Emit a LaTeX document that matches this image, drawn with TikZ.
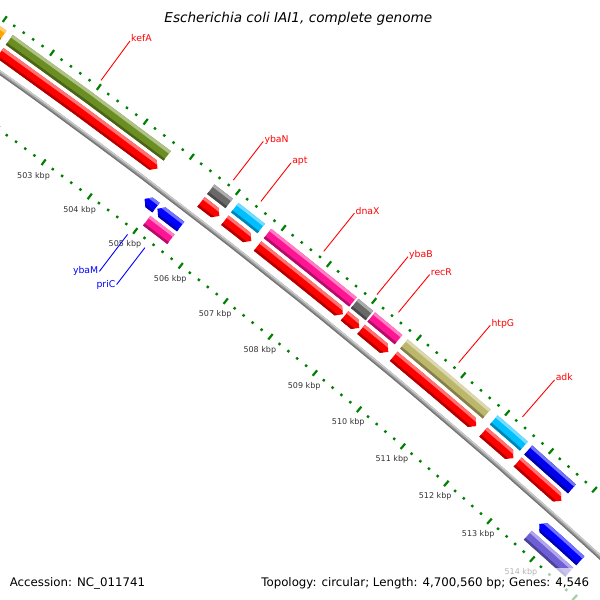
\documentclass[tikz,border=0pt]{standalone}
\usepackage{fontspec}
\setmainfont{DejaVu Sans}

\definecolor{cdsred}{RGB}{255,0,0}
\definecolor{cdsblue}{RGB}{0,0,255}
\definecolor{cogorange}{RGB}{255,165,0}
\definecolor{cogolive}{RGB}{107,142,35}
\definecolor{coggray}{RGB}{105,105,105}
\definecolor{cogcyan}{RGB}{0,191,255}
\definecolor{cogpink}{RGB}{255,20,147}
\definecolor{cogkhaki}{RGB}{189,183,107}
\definecolor{cogblue}{RGB}{0,0,238}
\definecolor{cogslate}{RGB}{110,95,215}
\definecolor{tickgreen}{RGB}{0,128,0}
\definecolor{labelgray}{RGB}{51,51,51}
\definecolor{backbone}{RGB}{155,155,155}
\definecolor{backbonelight}{RGB}{205,205,205}
\definecolor{backbonedark}{RGB}{115,115,115}

% angle of a position in kbp, seen from the centre of the genome circle
\newcommand{\kbpangle}[1]{-53.67+0.50125*((#1)-503)}
% shapes: start, end (kbp), inner and outer radius
\newcommand{\barshape}[4]{({\kbpangle{#1}}:{#3}) -- ({\kbpangle{#1}}:{#4}) -- ({\kbpangle{(#1+#2)/2}}:{#4}) -- ({\kbpangle{#2}}:{#4}) -- ({\kbpangle{#2}}:{#3}) -- ({\kbpangle{(#1+#2)/2}}:{#3}) -- cycle}
\newcommand{\fwdshape}[4]{({\kbpangle{#1}}:{#3}) -- ({\kbpangle{#1}}:{#4}) -- ({\kbpangle{(#1+#2)/2}}:{#4}) -- ({\kbpangle{#2-0.1}}:{#4}) -- ({\kbpangle{#2}}:{(#3+#4)/2}) -- ({\kbpangle{#2-0.1}}:{#3}) -- ({\kbpangle{(#1+#2)/2}}:{#3}) -- cycle}
\newcommand{\revshape}[4]{({\kbpangle{#1}}:{(#3+#4)/2}) -- ({\kbpangle{#1+0.1}}:{#4}) -- ({\kbpangle{(#1+#2)/2}}:{#4}) -- ({\kbpangle{#2}}:{#4}) -- ({\kbpangle{#2}}:{#3}) -- ({\kbpangle{(#1+#2)/2}}:{#3}) -- ({\kbpangle{#1+0.1}}:{#3}) -- cycle}
% one feature with light outer edge and dark inner edge
\newcommand{\genefeat}[6]{%
  \fill[#2] #1{#3}{#4}{#5}{#6};
  \begin{scope}
    \clip #1{#3}{#4}{#5}{#6};
    \fill[#2!55!white] \barshape{#3-0.3}{#4+0.3}{#6-3}{#6+1};
    \fill[#2!70!black] \barshape{#3-0.3}{#4+0.3}{#5-1}{#5+2.5};
  \end{scope}}
% labels with radial leaders
\newcommand{\fwdlabel}[2]{%
  \coordinate (#1-a) at ({\kbpangle{#2}}:6644);
  \coordinate (#1-b) at ({\kbpangle{#2}}:6693);
  \draw[fwdlead] (#1-a) -- (#1-b);
  \node[fwdtext] (#1) at (#1-b) {#1};}
\newcommand{\revlabel}[2]{%
  \coordinate (#1-a) at ({\kbpangle{#2}}:6536.5);
  \coordinate (#1-b) at ({\kbpangle{#2}}:6490);
  \draw[revlead] (#1-a) -- (#1-b);
  \node[revtext] (#1) at (#1-b) {#1};}

\tikzset{
  majortick/.style={draw=tickgreen, line width=2.2pt},
  minortick/.style={draw=tickgreen, line width=2.4pt},
  fwdlead/.style={draw=cdsred, line width=0.9pt},
  revlead/.style={draw=cdsblue, line width=0.9pt},
  fwdtext/.style={text=cdsred, anchor=base west, inner sep=1pt, yshift=-1pt, font=\fontsize{9.3}{11}\selectfont},
  revtext/.style={text=cdsblue, anchor=east, inner sep=1pt, font=\fontsize{9.3}{11}\selectfont},
  kbptext/.style={text=labelgray, inner sep=0pt, font=\fontsize{8}{9}\selectfont},
  foottext/.style={text=black, inner sep=0pt, font=\fontsize{11.8}{13}\selectfont}
}

\begin{document}
\begin{tikzpicture}[x=1pt,y=-1pt]
\useasboundingbox (0,0) rectangle (600,600);
\clip (0,0) rectangle (600,600);
\begin{scope}[shift={(-3833,5434)}]
  % rulers
  \foreach \i in {2500,...,2580}{%
    \pgfmathsetmacro{\k}{\i/5}%
    \pgfmathtruncatemacro{\m}{mod(\i,5)}%
    \ifnum\m=0
      \draw[majortick] ({\kbpangle{\k}}:6633.8) -- ({\kbpangle{\k}}:6640.8);
      \draw[majortick] ({\kbpangle{\k}}:6540.5) -- ({\kbpangle{\k}}:6547.5);
    \else
      \draw[minortick] ({\kbpangle{\k}}:6636.1) -- ({\kbpangle{\k}}:6638.5);
      \draw[minortick] ({\kbpangle{\k}}:6542.8) -- ({\kbpangle{\k}}:6545.2);
    \fi
  }
  \foreach \n in {503,...,514}
    \node[kbptext] (kbp\n) at ({\kbpangle{\n}}:6527) {\n\ kbp};
  % backbone
  \draw[line width=4.4pt, draw=backbone] plot[domain=499:517, samples=37] ({\kbpangle{\x}}:6591);
  \draw[line width=1.3pt, draw=backbonelight] plot[domain=499:517, samples=37] ({\kbpangle{\x}}:6592.4);
  \draw[line width=1.1pt, draw=backbonedark] plot[domain=499:517, samples=37] ({\kbpangle{\x}}:6589.5);
  % forward strand
  \genefeat{\barshape}{cogorange}{499.0}{501.14}{6617}{6629}
  \genefeat{\fwdshape}{cdsred}{499.0}{501.14}{6601}{6613}
  \genefeat{\barshape}{cogolive}{501.27}{504.65}{6617}{6629}
  \genefeat{\fwdshape}{cdsred}{501.27}{504.65}{6601}{6613}
  \genefeat{\barshape}{coggray}{505.60}{506.00}{6617}{6629}
  \genefeat{\fwdshape}{cdsred}{505.60}{506.00}{6601}{6613}
  \genefeat{\barshape}{cogcyan}{506.12}{506.70}{6617}{6629}
  \genefeat{\fwdshape}{cdsred}{506.12}{506.70}{6601}{6613}
  \genefeat{\barshape}{cogpink}{506.84}{508.73}{6617}{6629}
  \genefeat{\fwdshape}{cdsred}{506.84}{508.73}{6601}{6613}
  \genefeat{\barshape}{coggray}{508.77}{509.10}{6617}{6629}
  \genefeat{\fwdshape}{cdsred}{508.77}{509.10}{6601}{6613}
  \genefeat{\barshape}{cogpink}{509.14}{509.75}{6617}{6629}
  \genefeat{\fwdshape}{cdsred}{509.14}{509.75}{6601}{6613}
  \genefeat{\barshape}{cogkhaki}{509.87}{511.74}{6617}{6629}
  \genefeat{\fwdshape}{cdsred}{509.87}{511.74}{6601}{6613}
  \genefeat{\barshape}{cogcyan}{511.90}{512.59}{6617}{6629}
  \genefeat{\fwdshape}{cdsred}{511.90}{512.59}{6601}{6613}
  \genefeat{\barshape}{cogblue}{512.69}{513.70}{6617}{6629}
  \genefeat{\fwdshape}{cdsred}{512.69}{513.70}{6601}{6613}
  % reverse strand
  \genefeat{\revshape}{cdsblue}{504.79}{505.04}{6569}{6581}
  \genefeat{\revshape}{cdsblue}{505.07}{505.58}{6569}{6581}
  \genefeat{\barshape}{cogpink}{505.05}{505.58}{6553}{6565}
  \genefeat{\revshape}{cdsblue}{513.68}{514.64}{6569}{6581}
  \genefeat{\barshape}{cogslate}{513.66}{514.63}{6553}{6565}
  % gene labels
  \fwdlabel{kefA}{502.96}
  \fwdlabel{ybaN}{505.81}
  \fwdlabel{apt}{506.41}
  \fwdlabel{dnaX}{507.79}
  \fwdlabel{ybaB}{508.97}
  \fwdlabel{recR}{509.45}
  \fwdlabel{htpG}{510.80}
  \fwdlabel{adk}{512.24}
  \revlabel{ybaM}{504.93}
  \revlabel{priC}{505.31}
\end{scope}
\fill[white, opacity=0.63] (0,567.5) rectangle (600,600);
\node[anchor=base, inner sep=0pt, font=\fontsize{13.6}{16}\selectfont\itshape] (title) at (298.3,22.7) {Escherichia coli IAI1, complete genome};
\node[foottext, anchor=base west] (accession) at (9.6,586) {Accession: NC\_011741};
\node[foottext, anchor=base east] (topology) at (589.4,586) {Topology: circular; Length: 4,700,560 bp; Genes: 4,546};
\end{tikzpicture}
\end{document}
